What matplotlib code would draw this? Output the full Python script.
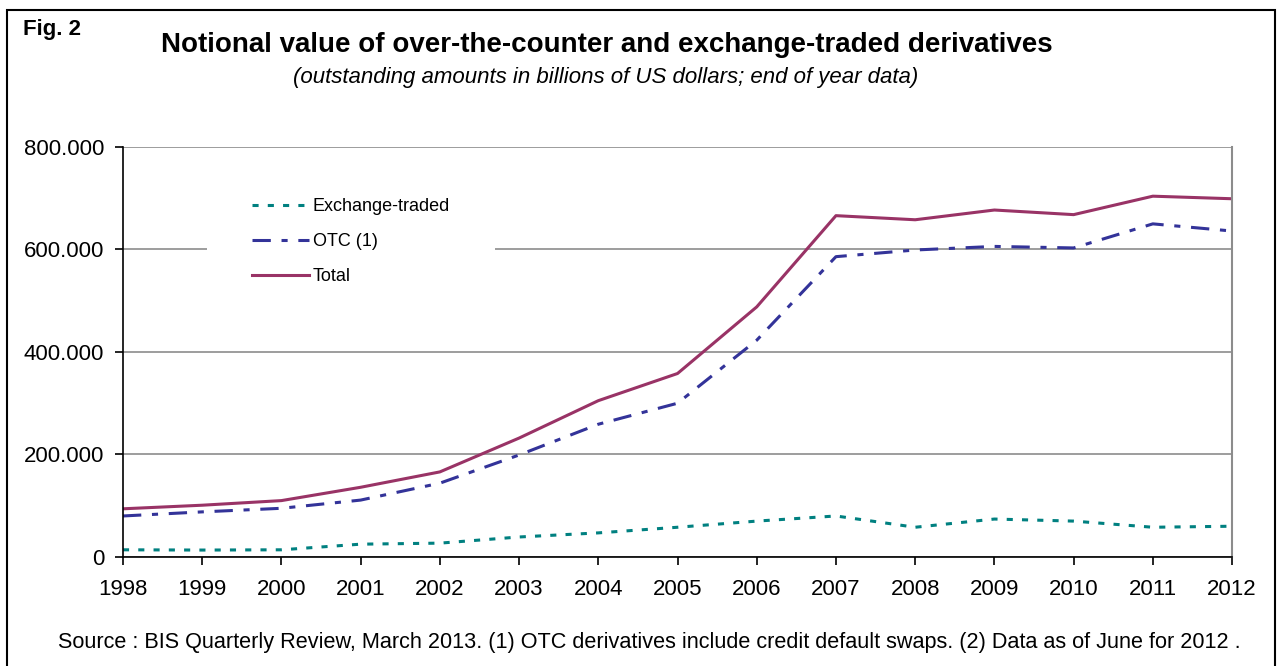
import matplotlib.pyplot as plt
from matplotlib.patches import Rectangle
from matplotlib.ticker import FuncFormatter

plt.rcParams['font.family'] = ['Liberation Sans', 'DejaVu Sans']

# outstanding amounts, billions of US dollars
years = [1998, 1999, 2000, 2001, 2002, 2003, 2004, 2005, 2006, 2007, 2008, 2009, 2010, 2011, 2012]
exchange_traded = [14000, 13500, 14000, 25000, 27000, 39000, 47000, 58000, 70000, 80000,
                   58000, 74000, 70000, 58000, 60000]
otc = [80000, 88000, 95000, 111000, 144000, 199000, 259000, 300000, 423000, 586000,
       599000, 606000, 603000, 650000, 636000]
total = [94000, 101000, 110000, 136000, 166000, 232000, 305000, 358000, 488000, 666000,
         658000, 677000, 668000, 704000, 699000]
y_ticks = [0, 200000, 400000, 600000, 800000]

fig = plt.figure(figsize=(12.85, 6.66), dpi=100)
ax = fig.add_axes([0.0957, 0.1637, 0.8631, 0.6156])

ax.plot(years, exchange_traded, color='#008080', lw=2.2, dashes=(2, 3), label='Exchange-traded')
ax.plot(years, otc, color='#333399', lw=2.2, dashes=(6, 3.5, 2, 3.5), label='OTC (1)')
ax.plot(years, total, color='#993366', lw=2.2, label='Total')

ax.set_xlim(years[0], years[-1])
ax.set_ylim(0, 800000)
ax.set_xticks(years)
ax.set_yticks(y_ticks)
ax.yaxis.set_major_formatter(FuncFormatter(lambda v, p: '0' if v == 0 else f'{int(v):,}'.replace(',', '.')))
ax.tick_params(axis='both', labelsize=16, direction='out', length=5.5, width=1.2, colors='black')
ax.tick_params(axis='y', pad=8)
ax.tick_params(axis='x', pad=10)

ax.grid(axis='y', color='#8c8c8c', lw=1.2)
ax.set_axisbelow(True)
for side in ['left', 'bottom']:
    ax.spines[side].set_color('black')
    ax.spines[side].set_linewidth(1.2)
ax.spines['right'].set_color('#8c8c8c')
ax.spines['right'].set_linewidth(1.5)
ax.spines['top'].set_visible(False)

leg = ax.legend(loc='upper left', bbox_to_anchor=(0.0757, 0.985), frameon=True, fontsize=13,
                handlelength=3.15, handletextpad=0.2, labelspacing=1.0, borderpad=2.5,
                borderaxespad=0)
leg.get_frame().set_facecolor('white')
leg.get_frame().set_edgecolor('none')
leg.get_frame().set_alpha(1)
leg.get_frame().set_boxstyle('square', pad=0)

fig.text(0.018, 0.955, 'Fig. 2', fontsize=16, fontweight='bold', va='center', ha='left')
fig.text(0.4725, 0.933, 'Notional value of over-the-counter and exchange-traded derivatives',
         fontsize=20, fontweight='bold', ha='center', va='center')
fig.text(0.4715, 0.883, '(outstanding amounts in billions of US dollars; end of year data)',
         fontsize=16, style='italic', ha='center', va='center')
fig.text(0.505, 0.035, 'Source : BIS Quarterly Review, March 2013. (1) OTC derivatives include credit '
         'default swaps. (2) Data as of June for 2012 .',
         fontsize=15.6, ha='center', va='center')

fig.patches.append(Rectangle((0.0054, -0.02), 0.9868, 1.005, transform=fig.transFigure,
                             fill=False, edgecolor='black', lw=1.5))

fig.savefig('out.png', dpi=100)
